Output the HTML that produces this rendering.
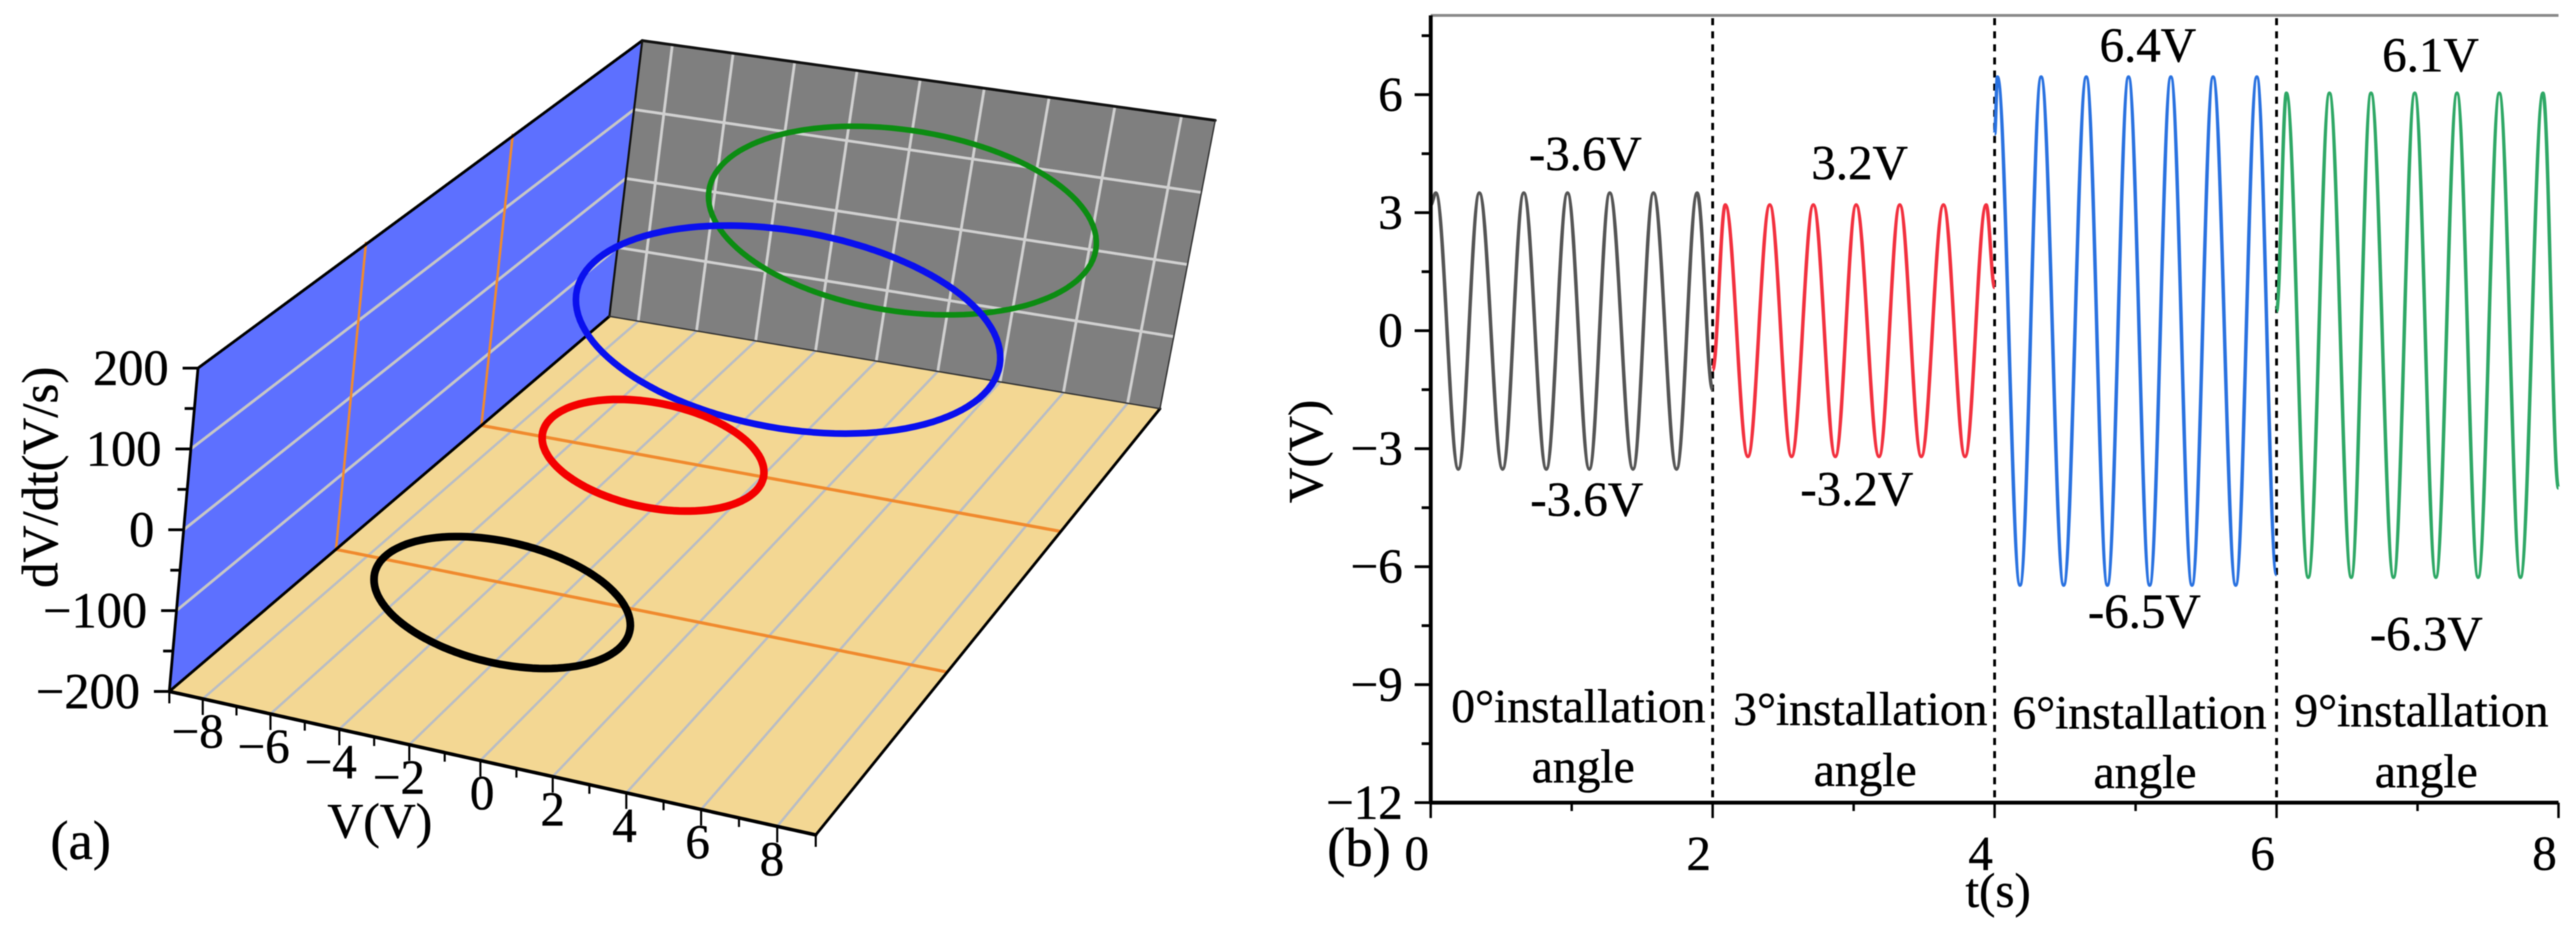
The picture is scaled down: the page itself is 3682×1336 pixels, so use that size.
<!DOCTYPE html>
<html lang="en">
<head>
<meta charset="utf-8">
<title>Phase portrait and voltage waveform at four installation angles</title>
<style>
html,body{margin:0;padding:0;background:#fff;width:3682px;height:1336px;overflow:hidden}
svg{display:block;filter:blur(0.8px)}
text{font-family:"Liberation Serif",serif;fill:#000;stroke:#000;stroke-width:0.6px}
</style>
</head>
<body>
<svg id="figure" xmlns="http://www.w3.org/2000/svg" width="3682" height="1336" viewBox="0 0 3682 1336">
  <g id="panelA"></g>
  <g id="panelB"></g>
</svg>
<script>
/* ===== Panel (a) data ===== */
const angleDegrees = [0, 3, 6, 9];
const voltageAmplitudes = [3.5, 3.2, 6.45, 6.2];
const rateAmplitudes = [73, 66, 131, 127];
const voltageOffsets = [0, 0, 0, 0];
const rateOffsets = [-9, -5, -2, 0];
const orangeSectionAngles = [3, 6];
const voltageTicks = [-8, -6, -4, -2, 0, 2, 4, 6, 8];
const rateTicks = [-200, -100, 0, 100, 200];
const rateMinorTicks = [-150, -50, 50, 150];
const rateGrid = [-100, 0, 100];

/* ===== Panel (b) data: extrema ===== */
const grayTimes = [0, 0.036, 0.196, 0.345, 0.51, 0.66, 0.82, 0.97, 1.125, 1.27, 1.435, 1.58, 1.744, 1.89, 2.0];
const grayVolts = [3.2, 3.5, -3.52, 3.5, -3.52, 3.5, -3.52, 3.5, -3.52, 3.5, -3.52, 3.5, -3.52, 3.5, -1.5];
const redTimes = [2.0, 2.09, 2.25, 2.405, 2.56, 2.714, 2.87, 3.018, 3.18, 3.327, 3.48, 3.637, 3.79, 3.94, 4.0];
const redVolts = [-1.0, 3.2, -3.2, 3.2, -3.2, 3.2, -3.2, 3.2, -3.2, 3.2, -3.2, 3.2, -3.2, 3.2, 1.1];
const blueTimes = [4.0, 4.02, 4.18, 4.33, 4.49, 4.65, 4.8, 4.95, 5.1, 5.25, 5.4, 5.55, 5.71, 5.86, 6.0];
const blueVolts = [5.0, 6.45, -6.47, 6.45, -6.47, 6.45, -6.47, 6.45, -6.47, 6.45, -6.47, 6.45, -6.47, 6.45, -6.2];
const greenTimes = [6.0, 6.07, 6.225, 6.375, 6.53, 6.67, 6.83, 6.98, 7.13, 7.28, 7.43, 7.58, 7.73, 7.89, 8.0];
const greenVolts = [0.5, 6.04, -6.27, 6.04, -6.27, 6.04, -6.27, 6.04, -6.27, 6.04, -6.27, 6.04, -6.27, 6.04, -4.0];
const timeTicks = [0, 2, 4, 6, 8];
const timeMinorTicks = [1, 3, 5, 7];
const voltTicks = [-12, -9, -6, -3, 0, 3, 6];
const voltMinorTicks = [-10.5, -7.5, -4.5, -1.5, 1.5, 4.5, 7.5];
const dividerTimes = [2, 4, 6];

const NS = 'http://www.w3.org/2000/svg';
const panelA = document.getElementById('panelA');
const panelB = document.getElementById('panelB');
function mk(tag, attrs, parent, txt) {
  const n = document.createElementNS(NS, tag);
  for (const k in attrs) n.setAttribute(k, attrs[k]);
  if (txt !== undefined) n.textContent = txt;
  parent.appendChild(n);
  return n;
}
function fmt(v) { return String(v).replace('-', '\u2212'); }

/* ===== Panel (a) projection ===== */
const FL = [242, 988], FR = [1166, 1193], BR = [1658, 584], BL = [871, 452];
const hFL = [41, -462], hFR = [78, -485], hBR = [79, -412], hBL = [47, -394];
const dx1 = FR[0] - BR[0], dx2 = BL[0] - BR[0], dx3 = FL[0] - FR[0] + BR[0] - BL[0];
const dy1 = FR[1] - BR[1], dy2 = BL[1] - BR[1], dy3 = FL[1] - FR[1] + BR[1] - BL[1];
const det = dx1 * dy2 - dx2 * dy1;
const hg = (dx3 * dy2 - dx2 * dy3) / det, hh = (dx1 * dy3 - dx3 * dy1) / det;
const ha = FR[0] - FL[0] + hg * FR[0], hb = BL[0] - FL[0] + hh * BL[0];
const hd = FR[1] - FL[1] + hg * FR[1], he = BL[1] - FL[1] + hh * BL[1];
function project(volt, rate, angle) {
  const u = (volt + 9) / 18, v = angle / 9, z = (rate + 200) / 400;
  const w = hg * u + hh * v + 1;
  const x = (ha * u + hb * v + FL[0]) / w, y = (hd * u + he * v + FL[1]) / w;
  const hx = (1 - u) * (1 - v) * hFL[0] + u * (1 - v) * hFR[0] + u * v * hBR[0] + (1 - u) * v * hBL[0];
  const hy = (1 - u) * (1 - v) * hFL[1] + u * (1 - v) * hFR[1] + u * v * hBR[1] + (1 - u) * v * hBL[1];
  return [x + hx * z, y + hy * z];
}
function polyPts(list) { return list.map(p => p[0].toFixed(1) + ',' + p[1].toFixed(1)).join(' '); }
function seg3d(a, b, stroke, width, parent) {
  const p = project(a[0], a[1], a[2]), q = project(b[0], b[1], b[2]);
  return mk('line', { x1: p[0], y1: p[1], x2: q[0], y2: q[1], stroke: stroke, 'stroke-width': width }, parent);
}

const blueWall = mk('polygon', { points: polyPts([project(-9, -200, 0), project(-9, 200, 0), project(-9, 200, 9), project(-9, -200, 9)]), fill: '#5d70ff' }, panelA);


const backWall = mk('polygon', { points: polyPts([project(-9, -200, 9), project(-9, 200, 9), project(9, 200, 9), project(9, -200, 9)]), fill: '#7f7f7f' }, panelA);


const floorPlane = mk('polygon', { points: polyPts([FL, FR, BR, BL]), fill: '#f3d793' }, panelA);



voltageTicks.forEach(function (v) {
  const fl = seg3d([v, -200, 0], [v, -200, 9], '#b9bdc4', 3.5, panelA);
  
  
  const bk = seg3d([v, -200, 9], [v, 200, 9], '#d0d0d0', 4, panelA);
  
  
});
rateGrid.forEach(function (r) {
  const a = seg3d([-9, r, 0], [-9, r, 9], '#c6c6c6', 4, panelA);
  
  
  const b = seg3d([-9, r, 9], [9, r, 9], '#d0d0d0', 4, panelA);
  
  
});
orangeSectionAngles.forEach(function (d) {
  const a = seg3d([-9, -200, d], [9, -200, d], '#f08a2e', 4.5, panelA);
  
  
  const b = seg3d([-9, -200, d], [-9, 200, d], '#f08a2e', 3.5, panelA);
  
  
});

[[FL, BL, 4, '#000'], [project(-9, 200, 0), project(-9, 200, 9), 4, '#000'], [project(-9, 200, 9), project(9, 200, 9), 4, '#111'],
 [project(-9, 200, 0), FL, 4, '#000'], [BL, project(-9, 200, 9), 3, '#111'], [FL, FR, 5, '#000'], [FR, BR, 4, '#000'],
 [BL, BR, 2, '#333'], [BR, project(9, 200, 9), 2, '#333']].forEach(function (e) {
  const l = mk('line', { x1: e[0][0], y1: e[0][1], x2: e[1][0], y2: e[1][1], 'stroke-width': e[2], stroke: e[3], 'stroke-linecap': 'round' }, panelA);
  
  
});

const loopColors = ['#000000', '#f40000', '#0a10ee', '#0c8c12'];
const loopWidths = [11, 11, 9.5, 8];
const loopNames = ['loop-0-degree', 'loop-3-degree', 'loop-6-degree', 'loop-9-degree'];
[3, 2, 1, 0].forEach(function (i) {
  const pts = [];
  for (let k = 0; k < 120; k++) {
    const th = k / 120 * 2 * Math.PI;
    pts.push(project(voltageOffsets[i] + voltageAmplitudes[i] * Math.cos(th), rateOffsets[i] + rateAmplitudes[i] * Math.sin(th), angleDegrees[i]));
  }
  const loop = mk('polygon', { points: polyPts(pts), fill: 'none', stroke: loopColors[i], 'stroke-width': loopWidths[i], 'stroke-linejoin': 'round' }, panelA);
  
  
});

/* voltage axis of panel (a) */
for (let v = -9; v <= 9; v++) {
  const p = project(v, -200, 0);
  const len = (v % 2 === 0) ? 23 : (Math.abs(v) === 9 ? 17 : 13);
  const t = mk('line', { x1: p[0], y1: p[1], x2: p[0], y2: p[1] + len, stroke: '#000', 'stroke-width': 3 }, panelA);
  
  
}
voltageTicks.forEach(function (v) {
  const p = project(v, -200, 0);
  const t = mk('text', { x: p[0] + 20 - 1.25 * v, y: p[1] + 70, 'font-size': 70, 'text-anchor': 'end' }, panelA, fmt(v));
  
  
});
/* rate axis of panel (a) */
rateTicks.forEach(function (r) {
  const p = project(-9, r, 0);
  const t = mk('line', { x1: p[0] - 22, y1: p[1], x2: p[0], y2: p[1], stroke: '#000', 'stroke-width': 4 }, panelA);
  
  
  const l = mk('text', { x: p[0] - 42, y: p[1] + 24, 'font-size': 72, 'text-anchor': 'end' }, panelA, fmt(r));
  
  
});
rateMinorTicks.forEach(function (r) {
  const p = project(-9, r, 0);
  const t = mk('line', { x1: p[0] - 14, y1: p[1], x2: p[0], y2: p[1], stroke: '#000', 'stroke-width': 4 }, panelA);
  
  
});
const rateTitle = mk('text', { transform: 'translate(82,682) rotate(-90)', 'font-size': 73, 'text-anchor': 'middle' }, panelA, 'dV/dt(V/s)');


const voltTitleA = mk('text', { x: 468, y: 1197, 'font-size': 71 }, panelA, 'V(V)');


const labelA = mk('text', { x: 72, y: 1227, 'font-size': 78 }, panelA, '(a)');



/* ===== Panel (b) axes ===== */
function xAxis(t) { return 2045 + (t / 8) * (3657 - 2045); }
function yAxis(v) { return 472.5 - v * 56.2; }

const topLine = mk('line', { x1: xAxis(0), y1: 22, x2: xAxis(8), y2: 22, stroke: '#8a8a8a', 'stroke-width': 4 }, panelB);



dividerTimes.forEach(function (t) {
  const l = mk('line', { x1: xAxis(t), y1: 26, x2: xAxis(t), y2: yAxis(-12), stroke: '#000', 'stroke-width': 4, 'stroke-dasharray': '10 8.7' }, panelB);
  
  
});

function tracePath(times, volts) {
  let d = 'M' + xAxis(times[0]).toFixed(1) + ' ' + yAxis(volts[0]).toFixed(1);
  for (let i = 1; i < times.length; i++) {
    const x0 = xAxis(times[i - 1]), x1 = xAxis(times[i]), y0 = yAxis(volts[i - 1]), y1 = yAxis(volts[i]);
    const c = (x1 - x0) * 0.3642;
    d += 'C' + (x0 + c).toFixed(1) + ' ' + y0.toFixed(1) + ' ' + (x1 - c).toFixed(1) + ' ' + y1.toFixed(1) + ' ' + x1.toFixed(1) + ' ' + y1.toFixed(1);
  }
  return d;
}
const grayTrace = mk('path', { d: tracePath(grayTimes, grayVolts), fill: 'none', stroke: '#555555', 'stroke-width': 5 }, panelB);


const redTrace = mk('path', { d: tracePath(redTimes, redVolts), fill: 'none', stroke: '#f2313f', 'stroke-width': 5 }, panelB);


const blueTrace = mk('path', { d: tracePath(blueTimes, blueVolts), fill: 'none', stroke: '#2a72e0', 'stroke-width': 5 }, panelB);


const greenTrace = mk('path', { d: tracePath(greenTimes, greenVolts), fill: 'none', stroke: '#2fa866', 'stroke-width': 5 }, panelB);



const yLine = mk('line', { x1: xAxis(0), y1: 22, x2: xAxis(0), y2: yAxis(-12) + 2, stroke: '#000', 'stroke-width': 5.5 }, panelB);


const xLine = mk('line', { x1: xAxis(0), y1: yAxis(-12), x2: xAxis(8), y2: yAxis(-12), stroke: '#000', 'stroke-width': 5.5 }, panelB);



voltTicks.forEach(function (v) {
  const t = mk('line', { x1: xAxis(0) - 23, y1: yAxis(v), x2: xAxis(0), y2: yAxis(v), stroke: '#000', 'stroke-width': 4 }, panelB);
  
  
  const l = mk('text', { x: 2005, y: yAxis(v) + 23, 'font-size': 70, 'text-anchor': 'end' }, panelB, fmt(v));
  
  
});
voltMinorTicks.forEach(function (v) {
  const t = mk('line', { x1: xAxis(0) - 13, y1: yAxis(v), x2: xAxis(0), y2: yAxis(v), stroke: '#000', 'stroke-width': 4 }, panelB);
  
  
});
timeTicks.forEach(function (t0) {
  const t = mk('line', { x1: xAxis(t0), y1: yAxis(-12), x2: xAxis(t0), y2: yAxis(-12) + 22, stroke: '#000', 'stroke-width': 3.5 }, panelB);
  
  
  const l = mk('text', { x: xAxis(t0) - 20, y: 1243, 'font-size': 70, 'text-anchor': 'middle' }, panelB, fmt(t0));
  
  
});
timeMinorTicks.forEach(function (t0) {
  const t = mk('line', { x1: xAxis(t0), y1: yAxis(-12), x2: xAxis(t0), y2: yAxis(-12) + 12, stroke: '#000', 'stroke-width': 3.5 }, panelB);
  
  
});
const xTitle = mk('text', { x: 2856, y: 1296, 'font-size': 70, 'text-anchor': 'middle' }, panelB, 't(s)');


const yTitle = mk('text', { transform: 'translate(1890,645) rotate(-90)', 'font-size': 70, 'text-anchor': 'middle' }, panelB, 'V(V)');


const labelB = mk('text', { x: 1897, y: 1237, 'font-size': 78 }, panelB, '(b)');



const noteTexts = ['-3.6V', '3.2V', '6.4V', '6.1V', '-3.6V', '-3.2V', '-6.5V', '-6.3V',
  '0\u00B0installation', '3\u00B0installation', '6\u00B0installation', '9\u00B0installation', 'angle', 'angle', 'angle', 'angle'];
const noteAnchorsX = [2266, 2658, 3070, 3474, 2268, 2654, 3065, 3468, 2256, 2659, 3058, 3461, 2263, 2666, 3066, 3468];
const noteAnchorsY = [243, 256, 88, 102, 737, 722, 897, 929, 1032, 1036, 1041, 1038, 1118, 1123, 1126, 1125];
noteTexts.forEach(function (s, i) {
  const size = i < 8 ? 70 : 68;
  const n = mk('text', { x: noteAnchorsX[i], y: noteAnchorsY[i], 'font-size': size, 'text-anchor': 'middle' }, panelB, s);
  
  
});
</script>
</body>
</html>
